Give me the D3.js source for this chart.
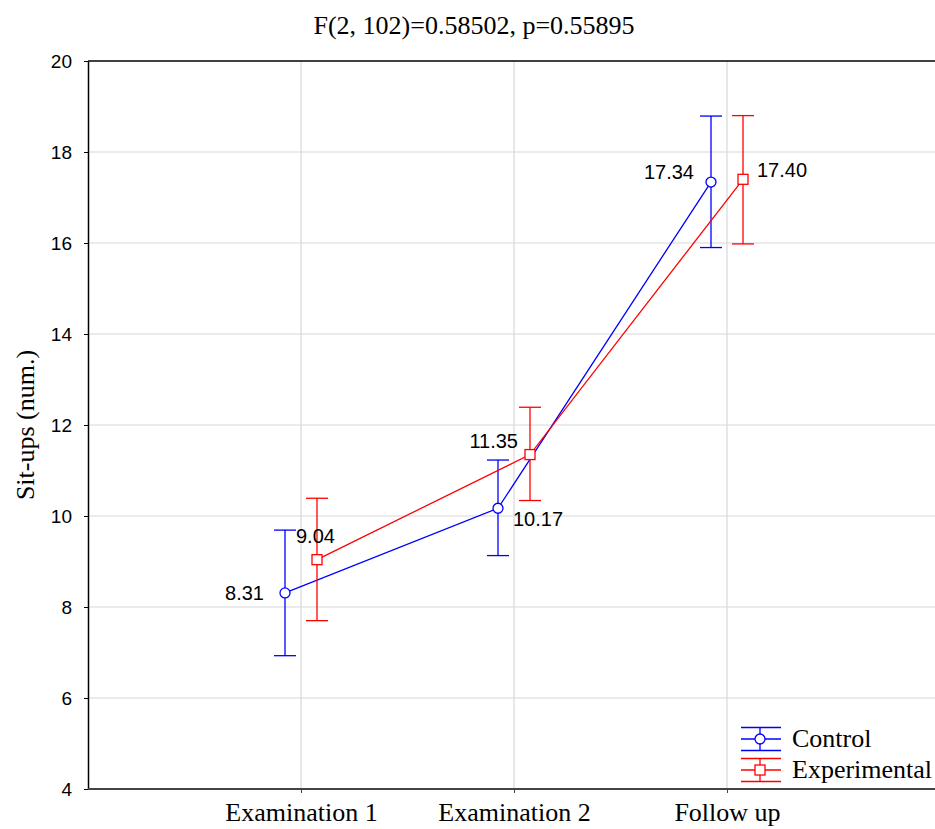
<!DOCTYPE html>
<html>
<head>
<meta charset="utf-8">
<script src="https://cdn.jsdelivr.net/npm/d3@7"></script>
<style>
  html, body { margin: 0; padding: 0; background: #fff; }
  svg { display: block; }
</style>
</head>
<body>
<svg id="chart" width="935" height="829"></svg>
<script>
// ---- data ----
const categories = ["Examination 1", "Examination 2", "Follow up"];
const seriesNames = ["Control", "Experimental"];
const controlMeans = [8.31, 10.17, 17.34];
const controlLow   = [6.93, 9.13, 15.90];
const controlHigh  = [9.69, 11.23, 18.79];
const expMeans     = [9.04, 11.35, 17.40];
const expLow       = [7.70, 10.34, 15.98];
const expHigh      = [10.39, 12.39, 18.80];
const yTicks = [4, 6, 8, 10, 12, 14, 16, 18, 20];
const titleText = "F(2, 102)=0.58502, p=0.55895";
const yTitle = "Sit-ups (num.)";

// ---- layout / style ----
const W = 935, H = 829;
const mLeft = 88, mRight = 940, mTop = 61, mBottom = 789;
const serif = "Liberation Serif, Times New Roman, serif";
const sans = "Liberation Sans, Arial, sans-serif";
const colors = { Control: "#0000ff", Experimental: "#ff0000" };
const offsets = { Control: -16, Experimental: 16 };
// label placement per point: [dx, dy, anchor]
const labelPos = {
  Control: [[-21, 0, "end"], [15, 11, "start"], [-17, -10, "end"]],
  Experimental: [[-21, -24, "start"], [-12, -14, "end"], [14, -9, "start"]]
};

const svg = d3.select("#chart");
const x = d3.scalePoint().domain(categories).range([mLeft, mRight]).padding(1);
const y = d3.scaleLinear().domain([4, 20]).range([mBottom, mTop]);

const series = [
  { name: "Control", means: controlMeans, low: controlLow, high: controlHigh },
  { name: "Experimental", means: expMeans, low: expLow, high: expHigh }
];

// grid
const grid = svg.append("g");
grid.selectAll("line.h").data(yTicks.filter(t => t > 4 && t < 20)).join("line")
  .attr("x1", mLeft).attr("x2", W).attr("y1", d => y(d)).attr("y2", d => y(d))
  .attr("stroke", "#d8d8d8").attr("stroke-width", 1.2);
grid.selectAll("line.v").data(categories).join("line")
  .attr("x1", d => x(d)).attr("x2", d => x(d)).attr("y1", mTop).attr("y2", mBottom)
  .attr("stroke", "#d8d8d8").attr("stroke-width", 1.2);

// frame top
svg.append("line").attr("x1", mLeft).attr("x2", W).attr("y1", mTop).attr("y2", mTop)
  .attr("stroke", "#000").attr("stroke-width", 1.5);

// y axis
const yAxis = svg.append("g").attr("transform", `translate(${mLeft},0)`)
  .call(d3.axisLeft(y).tickValues(yTicks).tickSize(4).tickSizeOuter(0).tickPadding(12));
yAxis.select(".domain").attr("stroke", "#000").attr("stroke-width", 1.5);
yAxis.selectAll(".tick line").attr("stroke", "#000");
yAxis.selectAll(".tick text").attr("font-family", sans)
  .attr("font-size", 19).attr("fill", "#000");

// x axis
const xAxis = svg.append("g").attr("transform", `translate(0,${mBottom})`)
  .call(d3.axisBottom(x).tickSize(4).tickSizeOuter(0).tickPadding(10));
xAxis.select(".domain").attr("stroke", "#444").attr("stroke-width", 2)
  .attr("d", `M${mLeft},0H${W}`);
xAxis.selectAll(".tick line").attr("stroke", "#444");
xAxis.selectAll(".tick text").attr("font-family", serif)
  .attr("font-size", 26).attr("fill", "#000");

// title
svg.append("text").attr("x", 474).attr("y", 34).attr("text-anchor", "middle")
  .attr("font-family", serif).attr("font-size", 26)
  .text(titleText);

// y title
svg.append("text").attr("transform", `translate(34,${(mTop + mBottom) / 2}) rotate(-90)`)
  .attr("text-anchor", "middle")
  .attr("font-family", serif).attr("font-size", 26)
  .text(yTitle);

// series
const capW = 11;
series.forEach(s => {
  const c = colors[s.name], off = offsets[s.name];
  const g = svg.append("g");
  const px = i => x(categories[i]) + off;
  const idx = d3.range(categories.length);
  g.selectAll("line.err").data(idx).join("line")
    .attr("x1", px).attr("x2", px).attr("y1", i => y(s.low[i])).attr("y2", i => y(s.high[i]))
    .attr("stroke", c).attr("stroke-width", 1.3);
  g.selectAll("line.capH").data(idx).join("line")
    .attr("x1", i => px(i) - capW).attr("x2", i => px(i) + capW)
    .attr("y1", i => y(s.high[i])).attr("y2", i => y(s.high[i]))
    .attr("stroke", c).attr("stroke-width", 1.3);
  g.selectAll("line.capL").data(idx).join("line")
    .attr("x1", i => px(i) - capW).attr("x2", i => px(i) + capW)
    .attr("y1", i => y(s.low[i])).attr("y2", i => y(s.low[i]))
    .attr("stroke", c).attr("stroke-width", 1.3);
  g.append("path").datum(idx)
    .attr("d", d3.line().x(px).y(i => y(s.means[i])))
    .attr("fill", "none").attr("stroke", c).attr("stroke-width", 1.3);
  if (s.name === "Control") {
    g.selectAll("circle").data(idx).join("circle")
      .attr("cx", px).attr("cy", i => y(s.means[i])).attr("r", 5)
      .attr("fill", "#fff").attr("stroke", c).attr("stroke-width", 1.3);
  } else {
    g.selectAll("rect").data(idx).join("rect")
      .attr("x", i => px(i) - 5).attr("y", i => y(s.means[i]) - 5)
      .attr("width", 10).attr("height", 10)
      .attr("fill", "#fff").attr("stroke", c).attr("stroke-width", 1.3);
  }
  g.selectAll("text").data(idx).join("text")
    .attr("x", i => px(i) + labelPos[s.name][i][0])
    .attr("y", i => y(s.means[i]) + labelPos[s.name][i][1] + 7)
    .attr("text-anchor", i => labelPos[s.name][i][2])
    .attr("font-family", sans).attr("font-size", 20)
    .attr("fill", "#000")
    .text(i => s.means[i].toFixed(2));
});

// legend
const leg = svg.append("g");
const legY = [739, 770];
series.forEach((s, k) => {
  const c = colors[s.name], cy = legY[k];
  const g = leg.append("g").attr("transform", `translate(0,${cy})`);
  [-11.5, 0, 11.5].forEach(dy => g.append("line").attr("x1", 741).attr("x2", 781)
    .attr("y1", dy).attr("y2", dy).attr("stroke", c).attr("stroke-width", 1.3));
  g.append("line").attr("x1", 760).attr("x2", 760).attr("y1", -11.5).attr("y2", 11.5)
    .attr("stroke", c).attr("stroke-width", 1.3);
  if (s.name === "Control") {
    g.append("circle").attr("cx", 760).attr("cy", 0).attr("r", 5)
      .attr("fill", "#fff").attr("stroke", c).attr("stroke-width", 1.3);
  } else {
    g.append("rect").attr("x", 755).attr("y", -5).attr("width", 10).attr("height", 10)
      .attr("fill", "#fff").attr("stroke", c).attr("stroke-width", 1.3);
  }
  g.append("text").attr("x", 792).attr("y", 8)
    .attr("font-family", serif).attr("font-size", 26)
    .attr("fill", "#000").text(s.name);
});
</script>
</body>
</html>
